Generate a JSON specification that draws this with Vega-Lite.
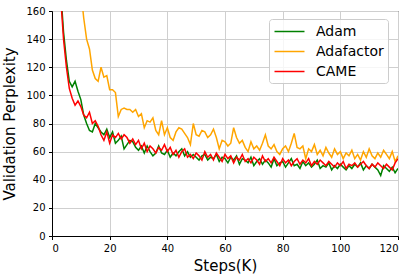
{
  "$schema": "https://vega.github.io/schema/vega-lite/v6.json",
  "width": 346,
  "height": 225,
  "autosize": "none",
  "padding": {"left": 52, "top": 11, "right": 18, "bottom": 43},
  "config": {
    "font": "DejaVu Sans",
    "view": {"stroke": "black", "strokeWidth": 1},
    "axis": {
      "domainColor": "black", "tickColor": "black", "tickSize": 3.5, "labelPadding": 3.5,
      "labelFontSize": 10, "labelColor": "black", "labelOverlap": false, "titleFontSize": 15, "titleFontWeight": "normal", "titleColor": "black",
      "gridColor": "#cfcfcf", "gridWidth": 1
    }
  },
  "data": {"values": [
{"step":3,"ppl":175,"opt":"Adam"},{"step":4,"ppl":145,"opt":"Adam"},{"step":5,"ppl":125,"opt":"Adam"},{"step":6,"ppl":110,"opt":"Adam"},{"step":7,"ppl":106,"opt":"Adam"},{"step":8,"ppl":110,"opt":"Adam"},{"step":9,"ppl":103,"opt":"Adam"},{"step":10,"ppl":97,"opt":"Adam"},{"step":11,"ppl":86,"opt":"Adam"},{"step":12,"ppl":80,"opt":"Adam"},{"step":13,"ppl":75,"opt":"Adam"},{"step":14,"ppl":74,"opt":"Adam"},{"step":15,"ppl":80,"opt":"Adam"},{"step":16,"ppl":77,"opt":"Adam"},{"step":17,"ppl":74,"opt":"Adam"},{"step":18,"ppl":72,"opt":"Adam"},{"step":19,"ppl":76,"opt":"Adam"},{"step":20,"ppl":70,"opt":"Adam"},{"step":21,"ppl":74,"opt":"Adam"},{"step":22,"ppl":66,"opt":"Adam"},{"step":23,"ppl":68,"opt":"Adam"},{"step":24,"ppl":71,"opt":"Adam"},{"step":25,"ppl":62,"opt":"Adam"},{"step":26,"ppl":65,"opt":"Adam"},{"step":27,"ppl":68,"opt":"Adam"},{"step":28,"ppl":67,"opt":"Adam"},{"step":29,"ppl":63,"opt":"Adam"},{"step":30,"ppl":61,"opt":"Adam"},{"step":31,"ppl":64,"opt":"Adam"},{"step":32,"ppl":59,"opt":"Adam"},{"step":33,"ppl":64,"opt":"Adam"},{"step":34,"ppl":60,"opt":"Adam"},{"step":35,"ppl":57,"opt":"Adam"},{"step":36,"ppl":59,"opt":"Adam"},{"step":37,"ppl":64,"opt":"Adam"},{"step":38,"ppl":59,"opt":"Adam"},{"step":39,"ppl":58,"opt":"Adam"},{"step":40,"ppl":61,"opt":"Adam"},{"step":41,"ppl":56,"opt":"Adam"},{"step":42,"ppl":59,"opt":"Adam"},{"step":43,"ppl":57,"opt":"Adam"},{"step":44,"ppl":60,"opt":"Adam"},{"step":45,"ppl":62,"opt":"Adam"},{"step":46,"ppl":57,"opt":"Adam"},{"step":47,"ppl":60,"opt":"Adam"},{"step":48,"ppl":56,"opt":"Adam"},{"step":49,"ppl":58,"opt":"Adam"},{"step":50,"ppl":56,"opt":"Adam"},{"step":51,"ppl":54,"opt":"Adam"},{"step":52,"ppl":57,"opt":"Adam"},{"step":53,"ppl":58,"opt":"Adam"},{"step":54,"ppl":54,"opt":"Adam"},{"step":55,"ppl":56,"opt":"Adam"},{"step":56,"ppl":55,"opt":"Adam"},{"step":57,"ppl":58,"opt":"Adam"},{"step":58,"ppl":53,"opt":"Adam"},{"step":59,"ppl":56,"opt":"Adam"},{"step":60,"ppl":55,"opt":"Adam"},{"step":61,"ppl":52,"opt":"Adam"},{"step":62,"ppl":56,"opt":"Adam"},{"step":63,"ppl":54,"opt":"Adam"},{"step":64,"ppl":57,"opt":"Adam"},{"step":65,"ppl":51,"opt":"Adam"},{"step":66,"ppl":55,"opt":"Adam"},{"step":67,"ppl":54,"opt":"Adam"},{"step":68,"ppl":52,"opt":"Adam"},{"step":69,"ppl":56,"opt":"Adam"},{"step":70,"ppl":50,"opt":"Adam"},{"step":71,"ppl":53,"opt":"Adam"},{"step":72,"ppl":55,"opt":"Adam"},{"step":73,"ppl":51,"opt":"Adam"},{"step":74,"ppl":54,"opt":"Adam"},{"step":75,"ppl":52,"opt":"Adam"},{"step":76,"ppl":49,"opt":"Adam"},{"step":77,"ppl":55,"opt":"Adam"},{"step":78,"ppl":50,"opt":"Adam"},{"step":79,"ppl":52,"opt":"Adam"},{"step":80,"ppl":53,"opt":"Adam"},{"step":81,"ppl":49,"opt":"Adam"},{"step":82,"ppl":52,"opt":"Adam"},{"step":83,"ppl":55,"opt":"Adam"},{"step":84,"ppl":50,"opt":"Adam"},{"step":85,"ppl":51,"opt":"Adam"},{"step":86,"ppl":48,"opt":"Adam"},{"step":87,"ppl":53,"opt":"Adam"},{"step":88,"ppl":50,"opt":"Adam"},{"step":89,"ppl":52,"opt":"Adam"},{"step":90,"ppl":49,"opt":"Adam"},{"step":91,"ppl":51,"opt":"Adam"},{"step":92,"ppl":54,"opt":"Adam"},{"step":93,"ppl":48,"opt":"Adam"},{"step":94,"ppl":50,"opt":"Adam"},{"step":95,"ppl":49,"opt":"Adam"},{"step":96,"ppl":52,"opt":"Adam"},{"step":97,"ppl":47,"opt":"Adam"},{"step":98,"ppl":50,"opt":"Adam"},{"step":99,"ppl":48,"opt":"Adam"},{"step":100,"ppl":51,"opt":"Adam"},{"step":101,"ppl":49,"opt":"Adam"},{"step":102,"ppl":47,"opt":"Adam"},{"step":103,"ppl":50,"opt":"Adam"},{"step":104,"ppl":48,"opt":"Adam"},{"step":105,"ppl":51,"opt":"Adam"},{"step":106,"ppl":49,"opt":"Adam"},{"step":107,"ppl":52,"opt":"Adam"},{"step":108,"ppl":47,"opt":"Adam"},{"step":109,"ppl":50,"opt":"Adam"},{"step":110,"ppl":48,"opt":"Adam"},{"step":111,"ppl":51,"opt":"Adam"},{"step":112,"ppl":49,"opt":"Adam"},{"step":113,"ppl":47,"opt":"Adam"},{"step":114,"ppl":43,"opt":"Adam"},{"step":115,"ppl":50,"opt":"Adam"},{"step":116,"ppl":48,"opt":"Adam"},{"step":117,"ppl":46,"opt":"Adam"},{"step":118,"ppl":49,"opt":"Adam"},{"step":119,"ppl":45,"opt":"Adam"},{"step":120,"ppl":48,"opt":"Adam"},
{"step":10,"ppl":175,"opt":"Adafactor"},{"step":11,"ppl":155,"opt":"Adafactor"},{"step":12,"ppl":140,"opt":"Adafactor"},{"step":13,"ppl":133,"opt":"Adafactor"},{"step":14,"ppl":118,"opt":"Adafactor"},{"step":15,"ppl":112,"opt":"Adafactor"},{"step":16,"ppl":110,"opt":"Adafactor"},{"step":17,"ppl":120,"opt":"Adafactor"},{"step":18,"ppl":113,"opt":"Adafactor"},{"step":19,"ppl":114,"opt":"Adafactor"},{"step":20,"ppl":104,"opt":"Adafactor"},{"step":21,"ppl":104,"opt":"Adafactor"},{"step":22,"ppl":102,"opt":"Adafactor"},{"step":23,"ppl":85,"opt":"Adafactor"},{"step":24,"ppl":90,"opt":"Adafactor"},{"step":25,"ppl":91,"opt":"Adafactor"},{"step":26,"ppl":90,"opt":"Adafactor"},{"step":27,"ppl":90,"opt":"Adafactor"},{"step":28,"ppl":88,"opt":"Adafactor"},{"step":29,"ppl":90,"opt":"Adafactor"},{"step":30,"ppl":85,"opt":"Adafactor"},{"step":31,"ppl":87,"opt":"Adafactor"},{"step":32,"ppl":77,"opt":"Adafactor"},{"step":33,"ppl":82,"opt":"Adafactor"},{"step":34,"ppl":81,"opt":"Adafactor"},{"step":35,"ppl":84,"opt":"Adafactor"},{"step":36,"ppl":75,"opt":"Adafactor"},{"step":37,"ppl":72,"opt":"Adafactor"},{"step":38,"ppl":82,"opt":"Adafactor"},{"step":39,"ppl":72,"opt":"Adafactor"},{"step":40,"ppl":77,"opt":"Adafactor"},{"step":41,"ppl":70,"opt":"Adafactor"},{"step":42,"ppl":68,"opt":"Adafactor"},{"step":43,"ppl":74,"opt":"Adafactor"},{"step":44,"ppl":77,"opt":"Adafactor"},{"step":45,"ppl":76,"opt":"Adafactor"},{"step":46,"ppl":73,"opt":"Adafactor"},{"step":47,"ppl":70,"opt":"Adafactor"},{"step":48,"ppl":65,"opt":"Adafactor"},{"step":49,"ppl":80,"opt":"Adafactor"},{"step":50,"ppl":72,"opt":"Adafactor"},{"step":51,"ppl":71,"opt":"Adafactor"},{"step":52,"ppl":75,"opt":"Adafactor"},{"step":53,"ppl":74,"opt":"Adafactor"},{"step":54,"ppl":70,"opt":"Adafactor"},{"step":55,"ppl":72,"opt":"Adafactor"},{"step":56,"ppl":76,"opt":"Adafactor"},{"step":57,"ppl":70,"opt":"Adafactor"},{"step":58,"ppl":62,"opt":"Adafactor"},{"step":59,"ppl":68,"opt":"Adafactor"},{"step":60,"ppl":67,"opt":"Adafactor"},{"step":61,"ppl":64,"opt":"Adafactor"},{"step":62,"ppl":66,"opt":"Adafactor"},{"step":63,"ppl":77,"opt":"Adafactor"},{"step":64,"ppl":70,"opt":"Adafactor"},{"step":65,"ppl":66,"opt":"Adafactor"},{"step":66,"ppl":68,"opt":"Adafactor"},{"step":67,"ppl":63,"opt":"Adafactor"},{"step":68,"ppl":60,"opt":"Adafactor"},{"step":69,"ppl":67,"opt":"Adafactor"},{"step":70,"ppl":62,"opt":"Adafactor"},{"step":71,"ppl":64,"opt":"Adafactor"},{"step":72,"ppl":61,"opt":"Adafactor"},{"step":73,"ppl":66,"opt":"Adafactor"},{"step":74,"ppl":72,"opt":"Adafactor"},{"step":75,"ppl":64,"opt":"Adafactor"},{"step":76,"ppl":62,"opt":"Adafactor"},{"step":77,"ppl":65,"opt":"Adafactor"},{"step":78,"ppl":60,"opt":"Adafactor"},{"step":79,"ppl":58,"opt":"Adafactor"},{"step":80,"ppl":62,"opt":"Adafactor"},{"step":81,"ppl":64,"opt":"Adafactor"},{"step":82,"ppl":60,"opt":"Adafactor"},{"step":83,"ppl":66,"opt":"Adafactor"},{"step":84,"ppl":73,"opt":"Adafactor"},{"step":85,"ppl":63,"opt":"Adafactor"},{"step":86,"ppl":62,"opt":"Adafactor"},{"step":87,"ppl":64,"opt":"Adafactor"},{"step":88,"ppl":55,"opt":"Adafactor"},{"step":89,"ppl":62,"opt":"Adafactor"},{"step":90,"ppl":60,"opt":"Adafactor"},{"step":91,"ppl":65,"opt":"Adafactor"},{"step":92,"ppl":58,"opt":"Adafactor"},{"step":93,"ppl":61,"opt":"Adafactor"},{"step":94,"ppl":57,"opt":"Adafactor"},{"step":95,"ppl":63,"opt":"Adafactor"},{"step":96,"ppl":59,"opt":"Adafactor"},{"step":97,"ppl":56,"opt":"Adafactor"},{"step":98,"ppl":62,"opt":"Adafactor"},{"step":99,"ppl":58,"opt":"Adafactor"},{"step":100,"ppl":60,"opt":"Adafactor"},{"step":101,"ppl":55,"opt":"Adafactor"},{"step":102,"ppl":59,"opt":"Adafactor"},{"step":103,"ppl":57,"opt":"Adafactor"},{"step":104,"ppl":61,"opt":"Adafactor"},{"step":105,"ppl":55,"opt":"Adafactor"},{"step":106,"ppl":58,"opt":"Adafactor"},{"step":107,"ppl":54,"opt":"Adafactor"},{"step":108,"ppl":60,"opt":"Adafactor"},{"step":109,"ppl":56,"opt":"Adafactor"},{"step":110,"ppl":62,"opt":"Adafactor"},{"step":111,"ppl":57,"opt":"Adafactor"},{"step":112,"ppl":55,"opt":"Adafactor"},{"step":113,"ppl":59,"opt":"Adafactor"},{"step":114,"ppl":56,"opt":"Adafactor"},{"step":115,"ppl":61,"opt":"Adafactor"},{"step":116,"ppl":58,"opt":"Adafactor"},{"step":117,"ppl":55,"opt":"Adafactor"},{"step":118,"ppl":60,"opt":"Adafactor"},{"step":119,"ppl":53,"opt":"Adafactor"},{"step":120,"ppl":57,"opt":"Adafactor"},
{"step":3,"ppl":170,"opt":"CAME"},{"step":4,"ppl":140,"opt":"CAME"},{"step":5,"ppl":120,"opt":"CAME"},{"step":6,"ppl":105,"opt":"CAME"},{"step":7,"ppl":98,"opt":"CAME"},{"step":8,"ppl":93,"opt":"CAME"},{"step":9,"ppl":96,"opt":"CAME"},{"step":10,"ppl":92,"opt":"CAME"},{"step":11,"ppl":86,"opt":"CAME"},{"step":12,"ppl":84,"opt":"CAME"},{"step":13,"ppl":88,"opt":"CAME"},{"step":14,"ppl":80,"opt":"CAME"},{"step":15,"ppl":82,"opt":"CAME"},{"step":16,"ppl":78,"opt":"CAME"},{"step":17,"ppl":72,"opt":"CAME"},{"step":18,"ppl":68,"opt":"CAME"},{"step":19,"ppl":74,"opt":"CAME"},{"step":20,"ppl":66,"opt":"CAME"},{"step":21,"ppl":72,"opt":"CAME"},{"step":22,"ppl":70,"opt":"CAME"},{"step":23,"ppl":73,"opt":"CAME"},{"step":24,"ppl":69,"opt":"CAME"},{"step":25,"ppl":72,"opt":"CAME"},{"step":26,"ppl":70,"opt":"CAME"},{"step":27,"ppl":66,"opt":"CAME"},{"step":28,"ppl":69,"opt":"CAME"},{"step":29,"ppl":65,"opt":"CAME"},{"step":30,"ppl":68,"opt":"CAME"},{"step":31,"ppl":62,"opt":"CAME"},{"step":32,"ppl":66,"opt":"CAME"},{"step":33,"ppl":60,"opt":"CAME"},{"step":34,"ppl":64,"opt":"CAME"},{"step":35,"ppl":62,"opt":"CAME"},{"step":36,"ppl":59,"opt":"CAME"},{"step":37,"ppl":63,"opt":"CAME"},{"step":38,"ppl":61,"opt":"CAME"},{"step":39,"ppl":65,"opt":"CAME"},{"step":40,"ppl":60,"opt":"CAME"},{"step":41,"ppl":63,"opt":"CAME"},{"step":42,"ppl":58,"opt":"CAME"},{"step":43,"ppl":61,"opt":"CAME"},{"step":44,"ppl":56,"opt":"CAME"},{"step":45,"ppl":60,"opt":"CAME"},{"step":46,"ppl":62,"opt":"CAME"},{"step":47,"ppl":56,"opt":"CAME"},{"step":48,"ppl":58,"opt":"CAME"},{"step":49,"ppl":55,"opt":"CAME"},{"step":50,"ppl":59,"opt":"CAME"},{"step":51,"ppl":57,"opt":"CAME"},{"step":52,"ppl":54,"opt":"CAME"},{"step":53,"ppl":60,"opt":"CAME"},{"step":54,"ppl":56,"opt":"CAME"},{"step":55,"ppl":58,"opt":"CAME"},{"step":56,"ppl":54,"opt":"CAME"},{"step":57,"ppl":59,"opt":"CAME"},{"step":58,"ppl":56,"opt":"CAME"},{"step":59,"ppl":53,"opt":"CAME"},{"step":60,"ppl":58,"opt":"CAME"},{"step":61,"ppl":55,"opt":"CAME"},{"step":62,"ppl":57,"opt":"CAME"},{"step":63,"ppl":52,"opt":"CAME"},{"step":64,"ppl":56,"opt":"CAME"},{"step":65,"ppl":54,"opt":"CAME"},{"step":66,"ppl":58,"opt":"CAME"},{"step":67,"ppl":53,"opt":"CAME"},{"step":68,"ppl":55,"opt":"CAME"},{"step":69,"ppl":52,"opt":"CAME"},{"step":70,"ppl":56,"opt":"CAME"},{"step":71,"ppl":54,"opt":"CAME"},{"step":72,"ppl":51,"opt":"CAME"},{"step":73,"ppl":57,"opt":"CAME"},{"step":74,"ppl":53,"opt":"CAME"},{"step":75,"ppl":55,"opt":"CAME"},{"step":76,"ppl":52,"opt":"CAME"},{"step":77,"ppl":56,"opt":"CAME"},{"step":78,"ppl":53,"opt":"CAME"},{"step":79,"ppl":50,"opt":"CAME"},{"step":80,"ppl":55,"opt":"CAME"},{"step":81,"ppl":52,"opt":"CAME"},{"step":82,"ppl":54,"opt":"CAME"},{"step":83,"ppl":50,"opt":"CAME"},{"step":84,"ppl":53,"opt":"CAME"},{"step":85,"ppl":55,"opt":"CAME"},{"step":86,"ppl":51,"opt":"CAME"},{"step":87,"ppl":54,"opt":"CAME"},{"step":88,"ppl":52,"opt":"CAME"},{"step":89,"ppl":55,"opt":"CAME"},{"step":90,"ppl":50,"opt":"CAME"},{"step":91,"ppl":53,"opt":"CAME"},{"step":92,"ppl":51,"opt":"CAME"},{"step":93,"ppl":54,"opt":"CAME"},{"step":94,"ppl":52,"opt":"CAME"},{"step":95,"ppl":50,"opt":"CAME"},{"step":96,"ppl":53,"opt":"CAME"},{"step":97,"ppl":51,"opt":"CAME"},{"step":98,"ppl":49,"opt":"CAME"},{"step":99,"ppl":52,"opt":"CAME"},{"step":100,"ppl":50,"opt":"CAME"},{"step":101,"ppl":53,"opt":"CAME"},{"step":102,"ppl":48,"opt":"CAME"},{"step":103,"ppl":51,"opt":"CAME"},{"step":104,"ppl":50,"opt":"CAME"},{"step":105,"ppl":52,"opt":"CAME"},{"step":106,"ppl":49,"opt":"CAME"},{"step":107,"ppl":51,"opt":"CAME"},{"step":108,"ppl":53,"opt":"CAME"},{"step":109,"ppl":50,"opt":"CAME"},{"step":110,"ppl":48,"opt":"CAME"},{"step":111,"ppl":51,"opt":"CAME"},{"step":112,"ppl":49,"opt":"CAME"},{"step":113,"ppl":52,"opt":"CAME"},{"step":114,"ppl":50,"opt":"CAME"},{"step":115,"ppl":48,"opt":"CAME"},{"step":116,"ppl":51,"opt":"CAME"},{"step":117,"ppl":49,"opt":"CAME"},{"step":118,"ppl":47,"opt":"CAME"},{"step":119,"ppl":52,"opt":"CAME"},{"step":120,"ppl":55,"opt":"CAME"}
  ]},
  "mark": {"type": "line", "clip": true, "strokeWidth": 1.5},
  "encoding": {
    "x": {"field": "step", "type": "quantitative", "scale": {"domain": [0, 120], "nice": false}, "axis": {"values": [0,20,40,60,80,100,120], "title": "Steps(K)", "titlePadding": 5}},
    "y": {"field": "ppl", "type": "quantitative", "scale": {"domain": [0, 160], "nice": false}, "axis": {"values": [0,20,40,60,80,100,120,140,160], "title": "Validation Perplexity", "titlePadding": 8}},
    "color": {"field": "opt", "type": "nominal", "sort": ["Adam", "Adafactor", "CAME"], "scale": {"domain": ["Adam", "Adafactor", "CAME"], "range": ["#008000", "#ffa500", "#ff0000"]},
      "legend": {"title": null, "orient": "none", "legendX": 217, "legendY": 8, "symbolType": "M-2,0H2", "symbolSize": 225, "symbolStrokeWidth": 1.5, "labelFontSize": 14, "labelColor": "black", "fillColor": "rgba(255,255,255,0.8)", "strokeColor": "#cccccc", "cornerRadius": 3, "padding": 4, "symbolOffset": 8, "labelOffset": 18, "rowPadding": 4}}
  }
}
